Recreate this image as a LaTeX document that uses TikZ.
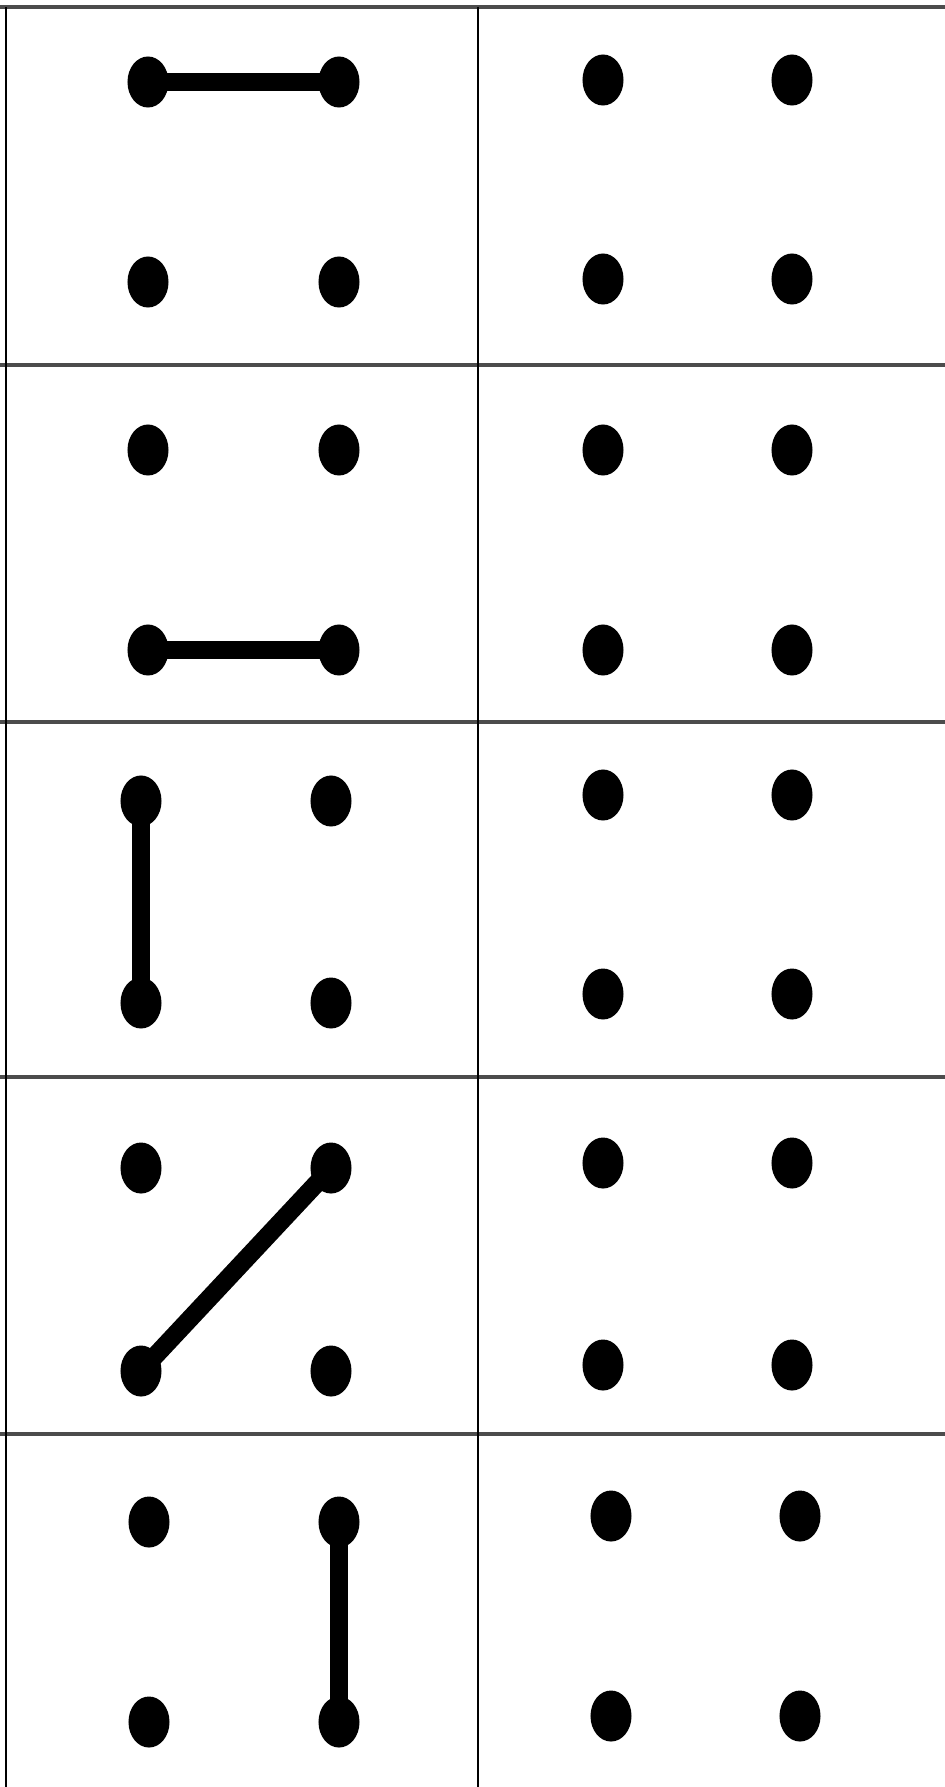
\documentclass[tikz,border=0pt]{standalone}
\usepackage{tikz}
\usetikzlibrary{shapes.geometric}

\begin{document}
\begin{tikzpicture}[
  x=0.01cm, y=-0.01cm,
  dot/.style={ellipse, fill=black, inner sep=0pt, minimum width=4.1mm, minimum height=5.1mm},
  bar/.style={draw=black, line width=5.2pt},
  hrule/.style={draw=black!70, line width=0.9pt},
  vrule/.style={draw=black, line width=0.5pt}
]
  \useasboundingbox (0,0) rectangle (945,1787);
  % grid
  \foreach \y in {7,365,722,1077,1434}
    \draw[hrule] (0,\y) -- (945,\y);
  \draw[vrule] (6,7) -- (6,1787);
  \draw[vrule] (478,7) -- (478,1787);
  % --- left column: row/x1/x2/y1/y2 ---
  \foreach \r/\xa/\xb/\ya/\yb in {1/148/339/82/282, 2/148/339/450/650,
      3/141/331/801/1003, 4/141/331/1168/1371, 5/149/339/1522/1722} {
    \node[dot] (tl\r) at (\xa,\ya) {};
    \node[dot] (tr\r) at (\xb,\ya) {};
    \node[dot] (bl\r) at (\xa,\yb) {};
    \node[dot] (br\r) at (\xb,\yb) {};
  }
  % --- right column ---
  \foreach \r/\xa/\xb/\ya/\yb in {1/603/792/80/279, 2/603/792/450/650,
      3/603/792/795/994, 4/603/792/1163/1365, 5/611/800/1516/1716} {
    \node[dot] (rtl\r) at (\xa,\ya) {};
    \node[dot] (rtr\r) at (\xb,\ya) {};
    \node[dot] (rbl\r) at (\xa,\yb) {};
    \node[dot] (rbr\r) at (\xb,\yb) {};
  }
  % bars
  \draw[bar] (tl1.center) -- (tr1.center);
  \draw[bar] (bl2.center) -- (br2.center);
  \draw[bar] (tl3.center) -- (bl3.center);
  \draw[bar] (bl4.center) -- (tr4.center);
  \draw[bar] (tr5.center) -- (br5.center);
\end{tikzpicture}
\end{document}
